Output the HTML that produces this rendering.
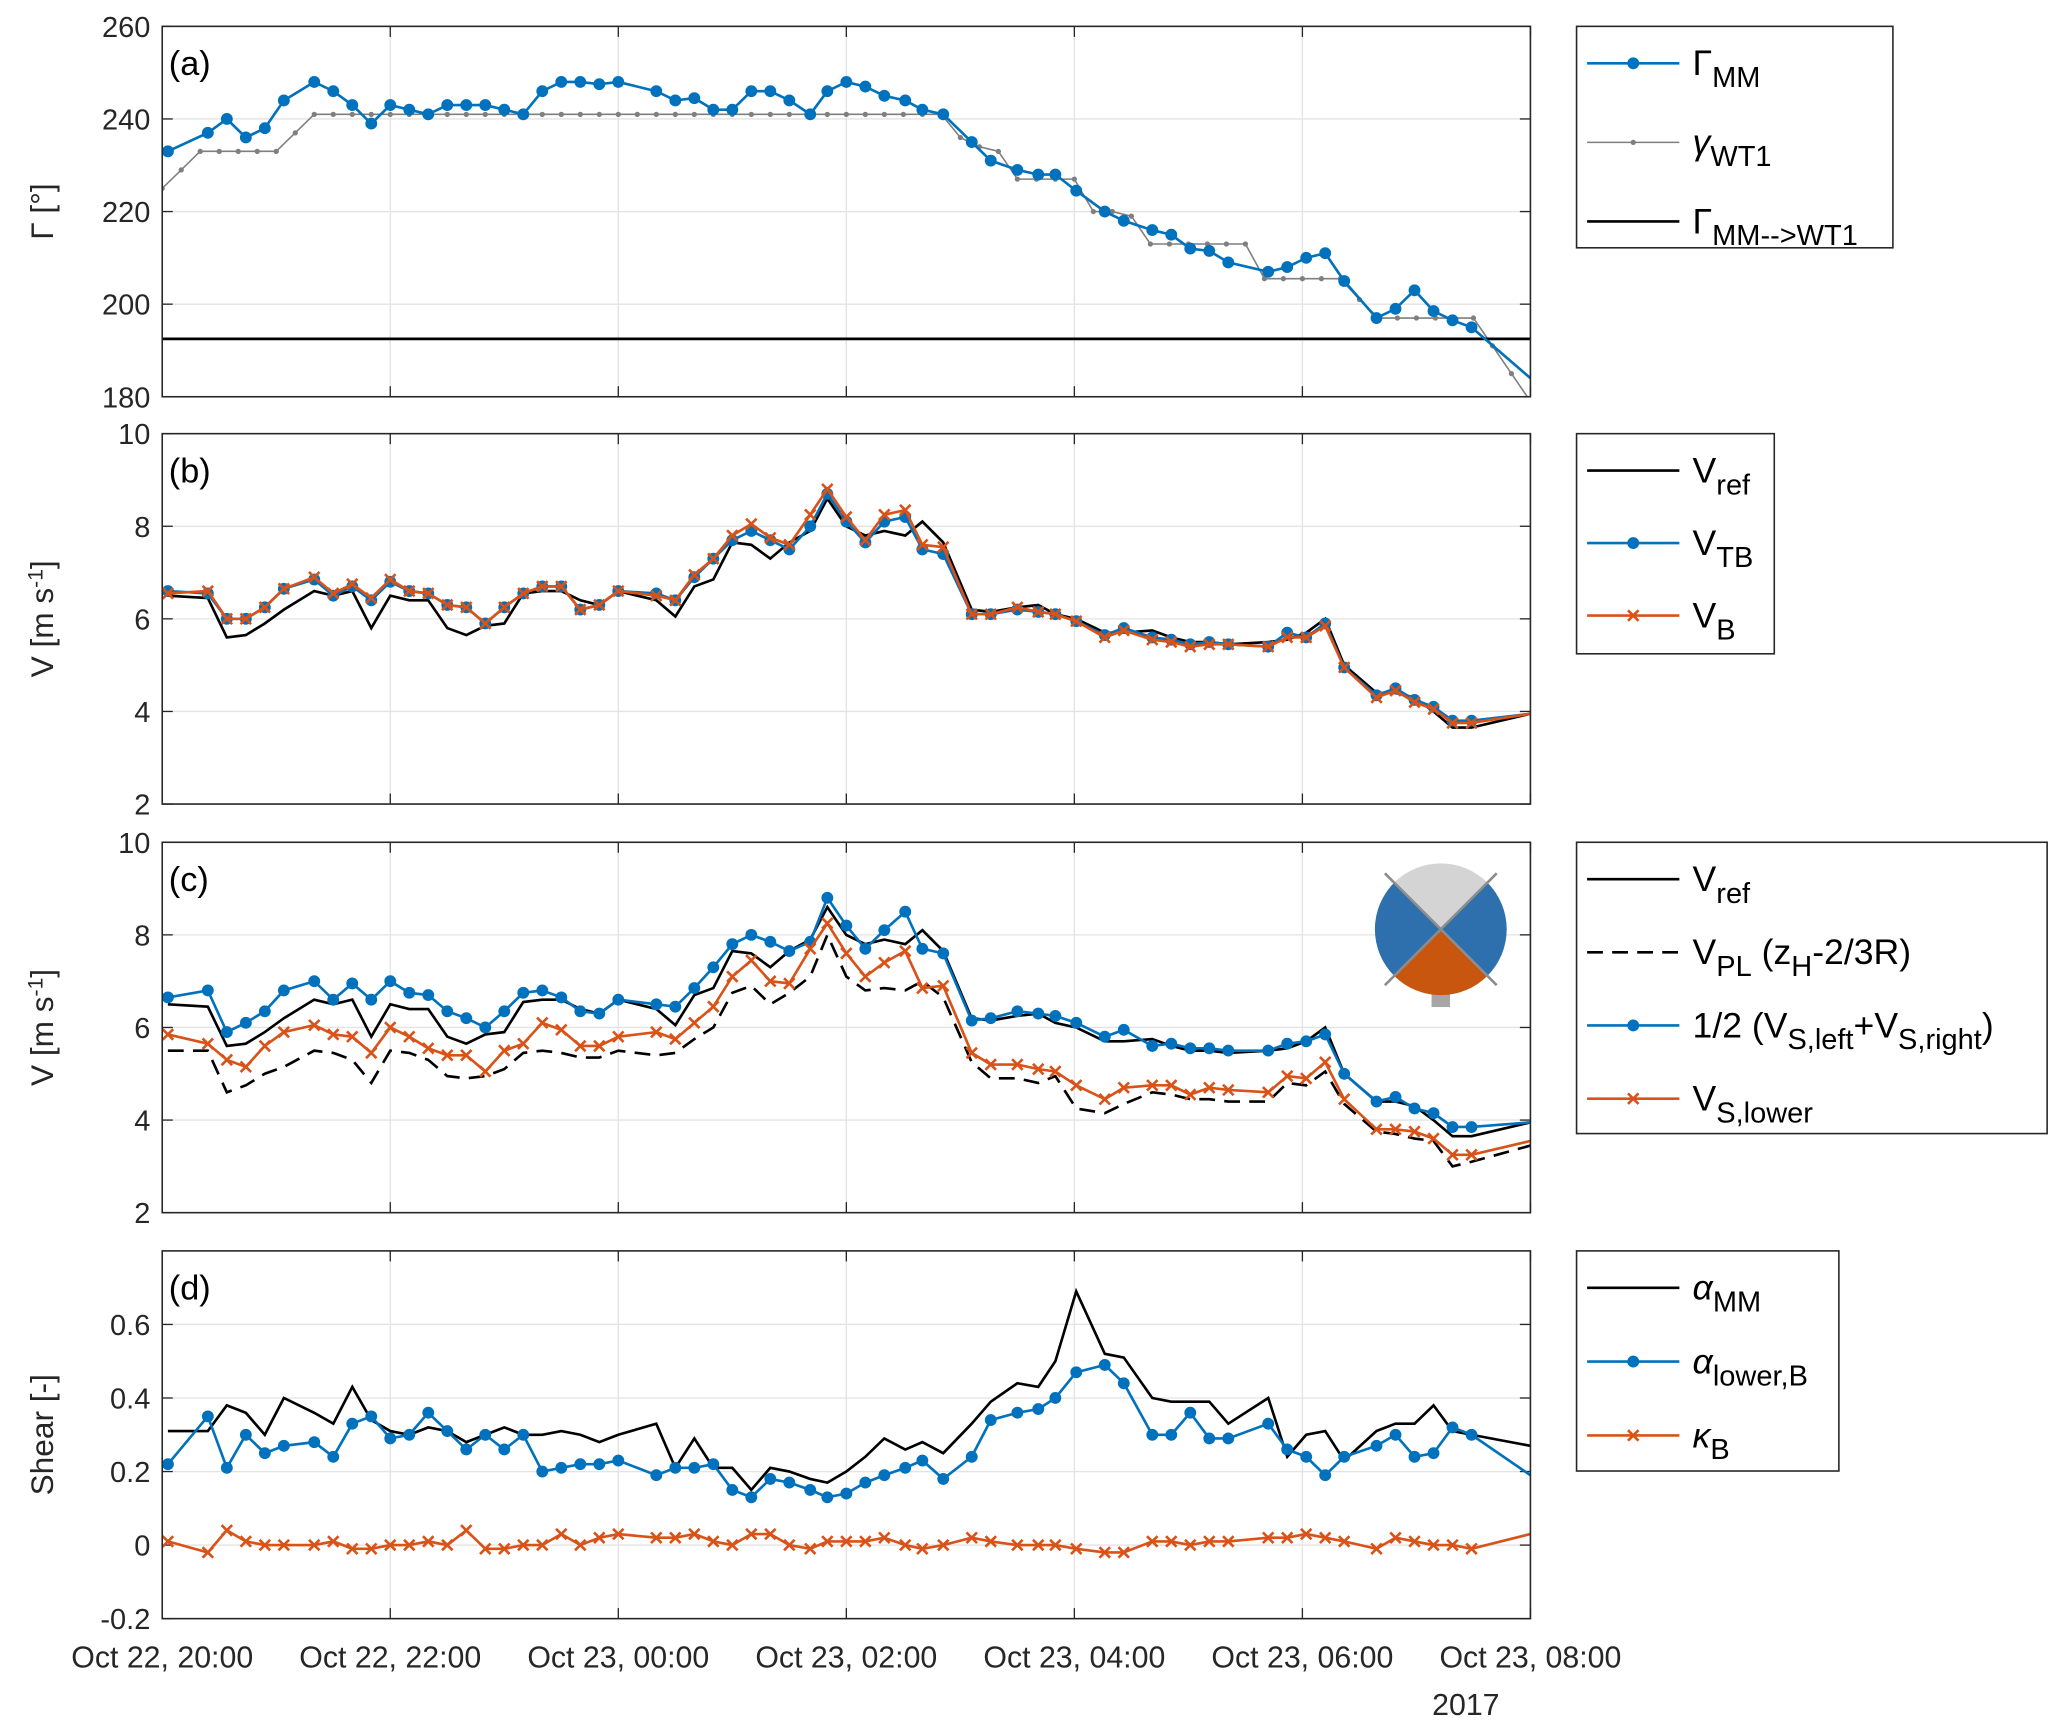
<!DOCTYPE html>
<html><head><meta charset="utf-8"><style>
html,body{margin:0;padding:0;background:#fff}
svg{display:block;font-family:"Liberation Sans",Arial,sans-serif}
</style></head><body>
<svg id="fig" width="2067" height="1732" viewBox="0 0 1568 1314" xmlns="http://www.w3.org/2000/svg"></svg>
<script>
// ---------- data ----------
const times = [3,24,34,44,54,64,80,90,100,110,120,130,140,150,160,170,180,190,200,210,220,230,240,260,270,280,290,300,310,320,330,341,350,360,370,380,391,400,411,426,436,450,461,470,481,496,506,521,531,541,551,561,582,592,602,612,622,639,649,659,669,679,689,720];
const gammaMM = [233,237,240,236,238,244,248,246,243,239,243,242,241,243,243,243,242,241,246,248,248,247.5,248,246,244,244.5,242,242,246,246,244,241,246,248,247,245,244,242,241,235,231,229,228,228,224.5,220,218,216,215,212,211.5,209,207,208,210,211,205,197,199,203,198.5,196.5,195,184];
const wtTimes = [0,10,20,30,40,50,60,70,80,90,100,110,120,130,140,150,160,170,180,190,200,210,220,230,240,250,260,270,280,290,300,310,320,330,340,350,360,370,380,390,400,410,420,430,440,450,460,470,480,490,500,510,520,530,540,550,560,570,580,590,600,610,620,630,640,650,660,670,680,690,700,710,720];
const gammaWT1 = [225,229,233,233,233,233,233,237,241,241,241,241,241,241,241,241,241,241,241,241,241,241,241,241,241,241,241,241,241,241,241,241,241,241,241,241,241,241,241,241,241,241,236,234,233,227,227,227,227,220,220,219,213,213,213,213,213,213,205.5,205.5,205.5,205.5,205.5,201,197,197,197,197,197,197,191,185,179];
const gammaMMtoWT1 = 192.5;
const vRef = [6.5,6.45,5.6,5.65,5.9,6.2,6.6,6.5,6.6,5.8,6.5,6.4,6.4,5.8,5.65,5.85,5.9,6.55,6.6,6.6,6.4,6.3,6.6,6.4,6.05,6.7,6.85,7.65,7.6,7.3,7.65,7.9,8.6,8.0,7.8,7.9,7.8,8.1,7.65,6.2,6.15,6.25,6.3,6.1,6.0,5.7,5.7,5.75,5.6,5.5,5.5,5.45,5.5,5.55,5.7,6.0,5.0,4.4,4.4,4.3,4.0,3.65,3.65,3.95];
const vTB = [6.6,6.55,6.0,6.0,6.25,6.65,6.85,6.5,6.7,6.4,6.8,6.6,6.55,6.3,6.25,5.9,6.25,6.55,6.7,6.7,6.2,6.3,6.6,6.55,6.4,6.9,7.3,7.7,7.9,7.7,7.5,8.0,8.7,8.1,7.65,8.1,8.2,7.5,7.4,6.1,6.1,6.2,6.15,6.1,5.95,5.65,5.8,5.6,5.55,5.45,5.5,5.45,5.4,5.7,5.6,5.9,4.95,4.35,4.5,4.25,4.1,3.8,3.8,3.95];
const vB = [6.55,6.6,6.0,6.0,6.25,6.65,6.9,6.55,6.75,6.45,6.85,6.6,6.55,6.3,6.25,5.9,6.25,6.55,6.7,6.7,6.2,6.3,6.6,6.5,6.4,6.95,7.3,7.8,8.05,7.75,7.6,8.25,8.8,8.2,7.7,8.25,8.35,7.6,7.55,6.1,6.1,6.25,6.15,6.1,5.95,5.6,5.75,5.55,5.5,5.4,5.45,5.45,5.4,5.6,5.6,5.85,4.95,4.3,4.45,4.2,4.05,3.75,3.75,3.95];
const vPL = [5.5,5.5,4.6,4.75,5.0,5.15,5.5,5.45,5.3,4.8,5.5,5.45,5.3,4.95,4.9,4.95,5.1,5.45,5.5,5.45,5.35,5.35,5.5,5.4,5.45,5.75,6.0,6.75,6.9,6.5,6.75,7.1,8.0,7.1,6.8,6.85,6.8,7.0,6.65,5.25,4.9,4.9,4.8,4.95,4.25,4.15,4.35,4.6,4.55,4.45,4.45,4.4,4.4,4.8,4.75,5.05,4.35,3.75,3.7,3.6,3.55,3.0,3.1,3.45];
const vSside = [6.65,6.8,5.9,6.1,6.35,6.8,7.0,6.6,6.95,6.6,7.0,6.75,6.7,6.35,6.2,6.0,6.35,6.75,6.8,6.65,6.35,6.3,6.6,6.5,6.45,6.85,7.3,7.8,8.0,7.85,7.65,7.85,8.8,8.2,7.7,8.1,8.5,7.7,7.6,6.15,6.2,6.35,6.3,6.25,6.1,5.8,5.95,5.6,5.65,5.55,5.55,5.5,5.5,5.65,5.7,5.85,5.0,4.4,4.5,4.25,4.15,3.85,3.85,3.95];
const vSlower = [5.85,5.65,5.3,5.15,5.6,5.9,6.05,5.85,5.8,5.45,6.0,5.8,5.55,5.4,5.4,5.05,5.5,5.65,6.1,5.95,5.6,5.6,5.8,5.9,5.75,6.1,6.45,7.1,7.45,7.0,6.95,7.7,8.25,7.6,7.1,7.4,7.65,6.85,6.9,5.45,5.2,5.2,5.1,5.05,4.75,4.45,4.7,4.75,4.75,4.55,4.7,4.65,4.6,4.95,4.9,5.25,4.45,3.8,3.8,3.75,3.6,3.25,3.25,3.55];
const alphaMM = [0.31,0.31,0.38,0.36,0.30,0.40,0.36,0.33,0.43,0.34,0.31,0.30,0.32,0.31,0.28,0.30,0.32,0.30,0.30,0.31,0.30,0.28,0.30,0.33,0.21,0.29,0.21,0.21,0.15,0.21,0.20,0.18,0.17,0.20,0.24,0.29,0.26,0.28,0.25,0.33,0.39,0.44,0.43,0.50,0.69,0.52,0.51,0.40,0.39,0.39,0.39,0.33,0.40,0.24,0.30,0.31,0.23,0.31,0.33,0.33,0.38,0.31,0.30,0.27];
const alphaLowerB = [0.22,0.35,0.21,0.30,0.25,0.27,0.28,0.24,0.33,0.35,0.29,0.30,0.36,0.31,0.26,0.30,0.26,0.30,0.20,0.21,0.22,0.22,0.23,0.19,0.21,0.21,0.22,0.15,0.13,0.18,0.17,0.15,0.13,0.14,0.17,0.19,0.21,0.23,0.18,0.24,0.34,0.36,0.37,0.40,0.47,0.49,0.44,0.30,0.30,0.36,0.29,0.29,0.33,0.26,0.24,0.19,0.24,0.27,0.30,0.24,0.25,0.32,0.30,0.19];
const kappaB = [0.01,-0.02,0.04,0.01,0.0,0.0,0.0,0.01,-0.01,-0.01,0.0,0.0,0.01,0.0,0.04,-0.01,-0.01,0.0,0.0,0.03,0.0,0.02,0.03,0.02,0.02,0.03,0.01,0.0,0.03,0.03,0.0,-0.01,0.01,0.01,0.01,0.02,0.0,-0.01,0.0,0.02,0.01,0.0,0.0,0.0,-0.01,-0.02,-0.02,0.01,0.01,0.0,0.01,0.01,0.02,0.02,0.03,0.02,0.01,-0.01,0.02,0.01,0.0,0.0,-0.01,0.03];
const xTickLabels = ["Oct 22, 20:00","Oct 22, 22:00","Oct 23, 00:00","Oct 23, 02:00","Oct 23, 04:00","Oct 23, 06:00","Oct 23, 08:00"];
const xTickMinutes = [0,120,240,360,480,600,720];

// ---------- drawing ----------
const NS="http://www.w3.org/2000/svg";
const svg=document.getElementById('fig');
const BLUE="#0072BD", ORANGE="#D95319";
const X0=123, X1=1161;
function xs(m){return X0+(m/720)*(X1-X0);}
function mk(tag,attrs,parent){const e=document.createElementNS(NS,tag);for(const k in attrs)e.setAttribute(k,attrs[k]);(parent||svg).appendChild(e);return e;}

function panel(id,top,bot,ymin,ymax,ticks,tickFmt,ylabel,letter){
  const g=mk('g',{});
  
  
  const ys=v=>bot-(v-ymin)/(ymax-ymin)*(bot-top);
  xTickMinutes.forEach(m=>{const l=mk('line',{x1:xs(m),x2:xs(m),y1:top,y2:bot,stroke:'#e3e3e3','stroke-width':1},g);
    });
  ticks.forEach(v=>{const l=mk('line',{x1:X0,x2:X1,y1:ys(v),y2:ys(v),stroke:'#e3e3e3','stroke-width':1},g);
    
    const t=mk('text',{x:X0-9,y:ys(v)+8,'text-anchor':'end','font-size':22,fill:'#262626'},g);t.textContent=tickFmt(v);
    
    mk('line',{x1:X0,x2:X0+8,y1:ys(v),y2:ys(v),stroke:'#262626','stroke-width':1},g);
    mk('line',{x1:X1,x2:X1-8,y1:ys(v),y2:ys(v),stroke:'#262626','stroke-width':1},g);});
  xTickMinutes.forEach(m=>{mk('line',{x1:xs(m),x2:xs(m),y1:bot,y2:bot-8,stroke:'#262626'},g);mk('line',{x1:xs(m),x2:xs(m),y1:top,y2:top+8,stroke:'#262626'},g);});
  const yl=mk('text',{x:0,y:0,transform:`translate(40,${(top+bot)/2}) rotate(-90)`,'text-anchor':'middle','font-size':24,fill:'#262626'},g);
  yl.innerHTML=ylabel;
  
  const lt=mk('text',{x:X0+5,y:top+37,'font-size':26,fill:'#000'},g);lt.textContent=letter;
  
  const cid='clip-'+id;
  const cp=mk('clipPath',{id:cid},g);mk('rect',{x:X0,y:top,width:X1-X0,height:bot-top},cp);
  const plot=mk('g',{'clip-path':`url(#${cid})`},g);
  const box=mk('rect',{x:X0,y:top,width:X1-X0,height:bot-top,fill:'none',stroke:'#262626','stroke-width':1.2},g);
  
  return {g,plot,ys};
}
function series(P,tArr,vals,opts,name){
  const s=mk('g',{},P.plot);
  
  
  const d=tArr.map((t,i)=>(i?'L':'M')+xs(t).toFixed(1)+','+P.ys(vals[i]).toFixed(1)).join(' ');
  mk('path',{d,fill:'none',stroke:opts.color,'stroke-width':opts.w||2,'stroke-dasharray':opts.dash||'none'},s);
  if(opts.marker) tArr.forEach((t,i)=>{ if(opts.skipLast && i===tArr.length-1) return; drawMarker(s,xs(t),P.ys(vals[i]),opts.marker,opts.color,opts.r||4.5);});
}
function drawMarker(p,x,y,type,c,r){
  if(type==='dot'){const m=mk('circle',{cx:x,cy:y,r:r,fill:c},p);}
  else {const m=mk('path',{d:`M${x-r},${y-r}L${x+r},${y+r}M${x-r},${y+r}L${x+r},${y-r}`,stroke:c,'stroke-width':2,fill:'none'},p);}
}
function legend(x,y,w,h,entries,name){
  const g=mk('g',{});
  
  
  mk('rect',{x,y,width:w,height:h,fill:'#fff',stroke:'#262626','stroke-width':1.2},g);
  entries.forEach((e,i)=>{
    const ey=y+28+i*e.step;
    const it=mk('g',{},g);
    
    
    mk('line',{x1:x+8,x2:x+78,y1:ey,y2:ey,stroke:e.color,'stroke-width':e.w||2,'stroke-dasharray':e.dash||'none'},it);
    if(e.marker)drawMarker(it,x+43,ey,e.marker,e.color,e.r||4.5);
    const t=mk('text',{x:x+88,y:ey+9,'font-size':27,fill:'#000'},it);t.innerHTML=e.label;
  });
}
const sub=s=>`<tspan dy="9" font-size="22">${s}</tspan>`;

// (a)
const A=panel('a',20,301,180,260,[180,200,220,240,260],v=>v,'Γ [°]','(a)');
series(A,wtTimes,gammaWT1,{color:'#7f7f7f',w:1.2,marker:'dot',r:2},'gamma-wt1-line');
{const l=mk('line',{x1:X0,x2:X1,y1:A.ys(gammaMMtoWT1),y2:A.ys(gammaMMtoWT1),stroke:'#000','stroke-width':2},A.plot);
 }
series(A,times,gammaMM,{color:BLUE,marker:'dot',skipLast:true},'gamma-mm-line');
legend(1196,20,240,168,[
 {color:BLUE,marker:'dot',label:'Γ'+sub('MM'),step:60},
 {color:'#7f7f7f',w:1.2,marker:'dot',r:2,label:'<tspan font-style="italic">γ</tspan>'+sub('WT1'),step:60},
 {color:'#000',label:'Γ'+sub('MM--&gt;WT1'),step:60}],'legend-a');

// (b)
const B=panel('b',329,610,2,10,[2,4,6,8,10],v=>v,'V [m s<tspan dy="-8" font-size="16">-1</tspan><tspan dy="8">]</tspan>','(b)');
series(B,times,vRef,{color:'#000'},'v-ref-line');
series(B,times,vTB,{color:BLUE,marker:'dot',skipLast:true},'v-tb-line');
series(B,times,vB,{color:ORANGE,marker:'x',r:4,skipLast:true},'v-b-line');
legend(1196,329,150,167,[
 {color:'#000',label:'V'+sub('ref'),step:55},
 {color:BLUE,marker:'dot',label:'V'+sub('TB'),step:55},
 {color:ORANGE,marker:'x',r:4,label:'V'+sub('B'),step:55}],'legend-b');

// (c)
const C=panel('c',639,920,2,10,[2,4,6,8,10],v=>v,'V [m s<tspan dy="-8" font-size="16">-1</tspan><tspan dy="8">]</tspan>','(c)');
series(C,times,vPL,{color:'#000',dash:'12,7'},'v-pl-line');
series(C,times,vRef,{color:'#000'},'v-ref-line');
series(C,times,vSside,{color:BLUE,marker:'dot',skipLast:true},'v-s-side-line');
series(C,times,vSlower,{color:ORANGE,marker:'x',r:4,skipLast:true},'v-s-lower-line');
legend(1196,639,357,221,[
 {color:'#000',label:'V'+sub('ref'),step:55.5},
 {color:'#000',dash:'12,7',label:'V'+sub('PL')+'<tspan dy="-9"> (z</tspan>'+sub('H')+'<tspan dy="-9">-2/3R)</tspan>',step:55.5},
 {color:BLUE,marker:'dot',label:'1/2 (V'+sub('S,left')+'<tspan dy="-9">+V</tspan>'+sub('S,right')+'<tspan dy="-9">)</tspan>',step:55.5},
 {color:ORANGE,marker:'x',r:4,label:'V'+sub('S,lower'),step:55.5}],'legend-c');
{const g=mk('g',{});
 const cx=1093,cy=705,r=50,pt=a=>[cx+r*Math.sin(a*Math.PI/180),cy-r*Math.cos(a*Math.PI/180)];
 const wedge=(a1,a2,c)=>{const p1=pt(a1),p2=pt(a2);mk('path',{d:`M${cx},${cy}L${p1[0]},${p1[1]}A${r},${r} 0 0 1 ${p2[0]},${p2[1]}Z`,fill:c},g);};
 mk('rect',{x:1086,y:752,width:14,height:12,fill:'#a6a6a6'},g);
 wedge(-45,45,'#d4d4d4');wedge(45,135,'#2e6fae');wedge(135,225,'#c8560f');wedge(225,315,'#2e6fae');
 const q=60;mk('path',{d:`M${cx-q*0.707},${cy-q*0.707}L${cx+q*0.707},${cy+q*0.707}M${cx+q*0.707},${cy-q*0.707}L${cx-q*0.707},${cy+q*0.707}`,stroke:'#8c8c8c','stroke-width':2},g);}

// (d)
const D=panel('d',949,1228,-0.2,0.8,[-0.2,0,0.2,0.4,0.6],v=>v===0?'0':v.toFixed(1),'Shear [-]','(d)');
series(D,times,alphaMM,{color:'#000'},'alpha-mm-line');
series(D,times,alphaLowerB,{color:BLUE,marker:'dot',skipLast:true},'alpha-lower-b-line');
series(D,times,kappaB,{color:ORANGE,marker:'x',r:4,skipLast:true},'kappa-b-line');
legend(1196,949,199,167,[
 {color:'#000',label:'<tspan font-style="italic">α</tspan>'+sub('MM'),step:56},
 {color:BLUE,marker:'dot',label:'<tspan font-style="italic">α</tspan>'+sub('lower,B'),step:56},
 {color:ORANGE,marker:'x',r:4,label:'<tspan font-style="italic">κ</tspan>'+sub('B'),step:56}],'legend-d');

xTickMinutes.forEach((m,i)=>{const t=mk('text',{x:xs(m),y:1265,'text-anchor':'middle','font-size':23,fill:'#262626'});t.textContent=xTickLabels[i];
 });
{const t=mk('text',{x:1112,y:1301,'text-anchor':'middle','font-size':23,fill:'#262626'});t.textContent='2017';
 }
</script>
</body></html>
